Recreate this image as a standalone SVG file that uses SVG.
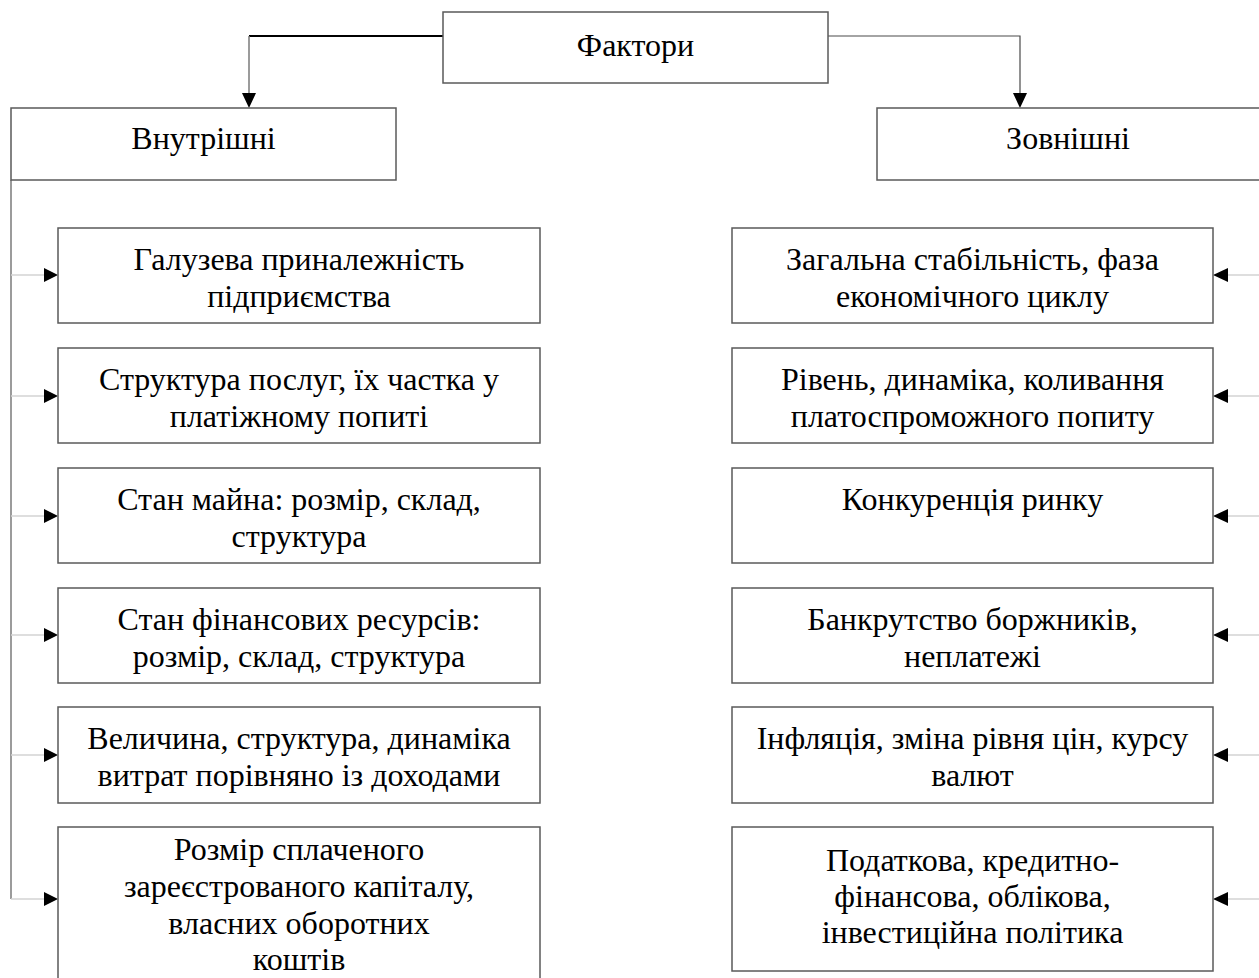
<svg xmlns="http://www.w3.org/2000/svg" width="1259" height="978" viewBox="0 0 1259 978">
<style>
.box{fill:#fff;stroke:#5a5a5a;stroke-width:1.5}
.t{font-family:"Liberation Serif","Times New Roman",serif;font-size:32px;fill:#000;text-anchor:middle}
.br{stroke:#d4d4d4;stroke-width:1.5;fill:none}
.ln{stroke:#7a7a7a;stroke-width:1.5;fill:none}
.ah{fill:#000}
</style>
<rect width="1259" height="978" fill="#fff"/>
<g id="connectors">
  <path d="M249 36 H443" stroke="#000" stroke-width="2" fill="none"/>
  <path class="ln" d="M249 36 V94"/>
  <polygon class="ah" points="242,93 256,93 249,108"/>
  <path d="M828 36 H1020 V94" stroke="#4a4a4a" stroke-width="1.2" fill="none"/>
  <polygon class="ah" points="1013,93 1027,93 1020,108"/>
  <path class="ln" d="M11 180 V899"/>
  <path class="br" d="M11 275 H44 M11 396 H44 M11 516 H44 M11 635 H44 M11 755 H44 M11 899 H44"/>
  <polygon class="ah" points="44,268 44,282 58,275"/>
  <polygon class="ah" points="44,389 44,403 58,396"/>
  <polygon class="ah" points="44,509 44,523 58,516"/>
  <polygon class="ah" points="44,628 44,642 58,635"/>
  <polygon class="ah" points="44,748 44,762 58,755"/>
  <polygon class="ah" points="44,892 44,906 58,899"/>
  <path class="br" d="M1227 275 H1259 M1227 396 H1259 M1227 516 H1259 M1227 635 H1259 M1227 755 H1259 M1227 899 H1259"/>
  <polygon class="ah" points="1228,268 1228,282 1213,275"/>
  <polygon class="ah" points="1228,389 1228,403 1213,396"/>
  <polygon class="ah" points="1228,509 1228,523 1213,516"/>
  <polygon class="ah" points="1228,628 1228,642 1213,635"/>
  <polygon class="ah" points="1228,748 1228,762 1213,755"/>
  <polygon class="ah" points="1228,892 1228,906 1213,899"/>
</g>
<g id="factors"><rect class="box" x="443" y="12" width="385" height="71"/><text class="t" x="635.5" y="56">Фактори</text></g>
<g id="internal"><rect class="box" x="11" y="108" width="385" height="72"/><text class="t" x="203.5" y="149">Внутрішні</text></g>
<g id="external"><rect class="box" x="877" y="108" width="400" height="72"/><text class="t" x="1068" y="149">Зовнішні</text></g>

<g id="in1"><rect class="box" x="58" y="228" width="482" height="95"/><text class="t" x="299"><tspan x="299" y="270">Галузева приналежність</tspan><tspan x="299" y="307">підприємства</tspan></text></g>
<g id="in2"><rect class="box" x="58" y="348" width="482" height="95"/><text class="t" x="299"><tspan x="299" y="390">Структура послуг, їх частка у</tspan><tspan x="299" y="427">платіжному попиті</tspan></text></g>
<g id="in3"><rect class="box" x="58" y="468" width="482" height="95"/><text class="t" x="299"><tspan x="299" y="510">Стан майна: розмір, склад,</tspan><tspan x="299" y="547">структура</tspan></text></g>
<g id="in4"><rect class="box" x="58" y="588" width="482" height="95"/><text class="t" x="299"><tspan x="299" y="630">Стан фінансових ресурсів:</tspan><tspan x="299" y="667">розмір, склад, структура</tspan></text></g>
<g id="in5"><rect class="box" x="58" y="707" width="482" height="96"/><text class="t" x="299"><tspan x="299" y="749">Величина, структура, динаміка</tspan><tspan x="299" y="786">витрат порівняно із доходами</tspan></text></g>
<g id="in6"><rect class="box" x="58" y="827" width="482" height="170"/><text class="t" x="299"><tspan x="299" y="860">Розмір сплаченого</tspan><tspan x="299" y="897">зареєстрованого капіталу,</tspan><tspan x="299" y="934">власних оборотних</tspan><tspan x="299" y="970">коштів</tspan></text></g>

<g id="ex1"><rect class="box" x="732" y="228" width="481" height="95"/><text class="t" x="972.5"><tspan x="972.5" y="270">Загальна стабільність, фаза</tspan><tspan x="972.5" y="307">економічного циклу</tspan></text></g>
<g id="ex2"><rect class="box" x="732" y="348" width="481" height="95"/><text class="t" x="972.5"><tspan x="972.5" y="390">Рівень, динаміка, коливання</tspan><tspan x="972.5" y="427">платоспроможного попиту</tspan></text></g>
<g id="ex3"><rect class="box" x="732" y="468" width="481" height="95"/><text class="t" x="972.5" y="510">Конкуренція ринку</text></g>
<g id="ex4"><rect class="box" x="732" y="588" width="481" height="95"/><text class="t" x="972.5"><tspan x="972.5" y="630">Банкрутство боржників,</tspan><tspan x="972.5" y="667">неплатежі</tspan></text></g>
<g id="ex5"><rect class="box" x="732" y="707" width="481" height="96"/><text class="t" x="972.5"><tspan x="972.5" y="749">Інфляція, зміна рівня цін, курсу</tspan><tspan x="972.5" y="786">валют</tspan></text></g>
<g id="ex6"><rect class="box" x="732" y="827" width="481" height="144"/><text class="t" x="972.5"><tspan x="972.5" y="871">Податкова, кредитно-</tspan><tspan x="972.5" y="907">фінансова, облікова,</tspan><tspan x="972.5" y="943">інвестиційна політика</tspan></text></g>
</svg>
